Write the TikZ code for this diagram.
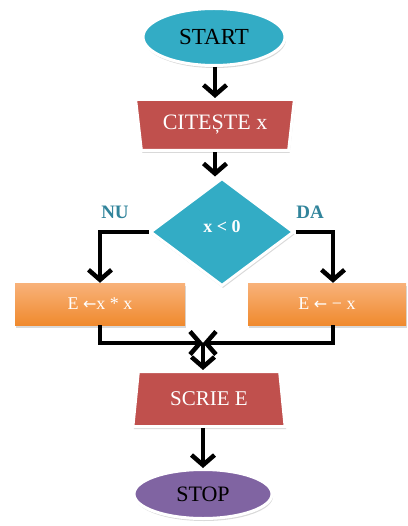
\documentclass[tikz,border=0pt]{standalone}
\usepackage{fontspec}
\setmainfont{Liberation Serif}
\newfontfamily\arrfont{DejaVu Sans}
\usetikzlibrary{shapes.geometric,arrows.meta,shadows}
\definecolor{teal1}{RGB}{51,172,197}
\definecolor{red1}{RGB}{192,80,77}
\definecolor{purple1}{RGB}{128,100,162}
\definecolor{orangeT}{RGB}{248,178,122}
\definecolor{orangeB}{RGB}{240,138,46}
\definecolor{lbl}{RGB}{49,132,155}
\tikzset{
  shd/.style={drop shadow={opacity=0.3,shadow xshift=1pt,shadow yshift=-2.5pt}},
  term/.style={ellipse,draw=white,line width=3pt,inner sep=0pt,shd,font=\fontsize{23}{25}\selectfont},
  io/.style={trapezium,trapezium stretches=true,trapezium left angle=78,trapezium right angle=78,
     fill=red1,draw=white,line width=3pt,inner sep=0pt,shd,text=white},
  dec/.style={diamond,fill=teal1,draw=white,line width=3pt,inner sep=0pt,shd},
  proc/.style={rectangle,top color=orangeT,bottom color=orangeB,inner sep=0pt,shd,text=white,
     font=\fontsize{18}{20}\selectfont},
  lab/.style={text=lbl,font=\bfseries\fontsize{19}{21}\selectfont},
  conn/.style={line width=4.5pt,-{Straight Barb[length=10pt,width=23pt]}},
}
\begin{document}
\begin{tikzpicture}[x=1pt,y=-1pt]
\useasboundingbox (0,0) rectangle (407,526);
\node[term,fill=teal1,minimum width=142pt,minimum height=57pt] (start) at (214,37) {START};
\node[io,shape border rotate=180,minimum width=159pt,minimum height=51pt,font=\fontsize{22}{24}\selectfont] (cit) at (215,125) {CITEȘTE x};
\node[dec,minimum width=144pt,minimum height=108pt] (dia) at (222,232) {};
\node[text=white,font=\bfseries\fontsize{18}{20}\selectfont] (cond) at (222,227) {x < 0};
\node[lab] (nu) at (115,212) {NU};
\node[lab] (da) at (310,212) {DA};
\node[proc,minimum width=170pt,minimum height=42pt] (left) at (100,304) {E {\arrfont\fontsize{16}{18}\selectfont ←}x * x};
\node[proc,minimum width=158pt,minimum height=42pt] (right) at (327,304) {E {\arrfont\fontsize{16}{18}\selectfont ←} − x};
\node[io,minimum width=153pt,minimum height=55pt,font=\fontsize{21}{23}\selectfont] (scrie) at (209,399) {SCRIE E};
\node[term,fill=purple1,minimum width=138pt,minimum height=49pt,font=\fontsize{22}{24}\selectfont] (stop) at (203,494) {STOP};
\coordinate (m) at (203,343);
\coordinate (rn) at ([xshift=6pt]right.north);
\coordinate (rs) at ([xshift=6pt]right.south);
\draw[conn] (start.south -| cit.north) -- (cit.north);
\draw[conn] (cit.south) -- (cit.south |- dia.north);
\draw[conn,line join=miter] (dia.west) -| (left.north);
\draw[conn,line join=miter] (dia.east) -| (rn);
\draw[conn,line join=miter] (left.south) |- (m);
\draw[conn,line join=miter] (rs) |- (m);
\draw[conn] (m) -- (m |- scrie.north);
\draw[conn] (m |- scrie.south) -- (m |- stop.north);
\end{tikzpicture}
\end{document}
